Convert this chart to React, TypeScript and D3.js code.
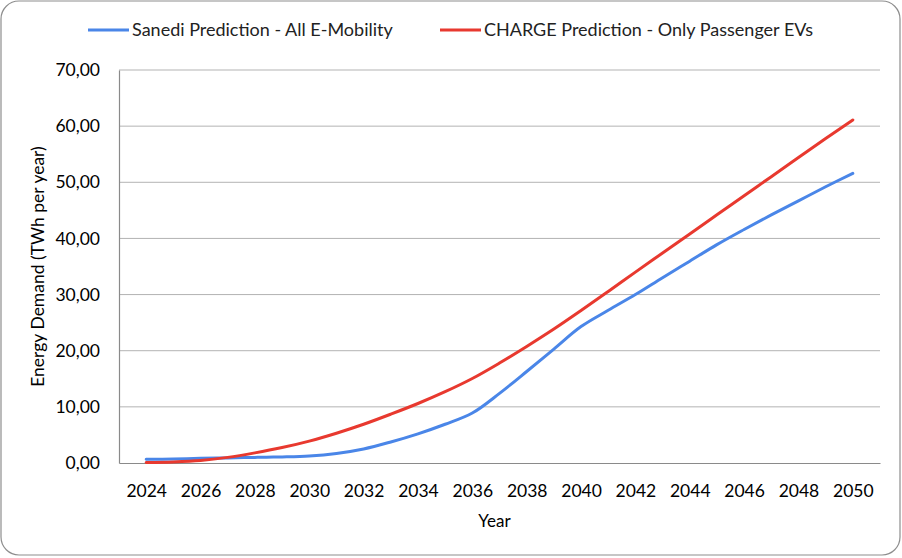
import * as React from "react";
import * as d3 from "d3";

// years on the x axis
const years: number[] = d3.range(2024, 2051);
const tickYears: number[] = d3.range(2024, 2051, 2);
const yTicks: number[] = [0, 10, 20, 30, 40, 50, 60, 70];

// TWh per year
const sanedi: number[] = [0.65, 0.72, 0.83, 0.9, 1.0, 1.08, 1.25, 1.7, 2.5, 3.75, 5.2, 6.9, 8.9, 12.4, 16.3, 20.3, 24.3, 27.2, 30.0, 33.0, 35.95, 38.9, 41.6, 44.2, 46.7, 49.2, 51.6];
const charge: number[] = [0.1, 0.2, 0.45, 1.0, 1.8, 2.75, 3.9, 5.3, 6.9, 8.7, 10.6, 12.7, 15.05, 17.8, 20.75, 23.85, 27.15, 30.55, 34.0, 37.4, 40.8, 44.2, 47.6, 51.0, 54.4, 57.8, 61.1];

const seriesNames = ["Sanedi Prediction - All E-Mobility", "CHARGE Prediction - Only Passenger EVs"];
const seriesColors = ["#4a86e8", "#e8392f"];

const W = 902, H = 558;
const margin = { top: 70, right: 22, bottom: 95, left: 119 };
const font = "Lato, 'Open Sans', sans-serif";

export default function App() {
  const ref = React.useRef<SVGSVGElement>(null);

  React.useEffect(() => {
    document.body.style.margin = "0";
    const svg = d3.select(ref.current);
    svg.selectAll("*").remove();

    const width = W - margin.left - margin.right;
    const height = H - margin.top - margin.bottom;

    const x = d3.scaleLinear().domain([2023, 2051]).range([0, width]);
    const y = d3.scaleLinear().domain([0, 70]).range([height, 0]);

    // outer frame
    svg.append("rect")
      .attr("x", 1).attr("y", 1).attr("width", W - 3).attr("height", H - 4)
      .attr("rx", 18).attr("ry", 18)
      .attr("fill", "#fff").attr("stroke", "#8e8e8e").attr("stroke-width", 1.2);

    const g = svg.append("g").attr("transform", "translate(" + margin.left + "," + margin.top + ")");

    // gridlines
    g.append("g").selectAll("line").data(yTicks.filter(d => d > 0)).enter().append("line")
      .attr("x1", 0).attr("x2", width)
      .attr("y1", d => y(d)).attr("y2", d => y(d))
      .attr("stroke", "#b3b3b3").attr("stroke-width", 1);

    // y axis
    const yAxis = g.append("g").call(d3.axisLeft(y).tickValues(yTicks).tickSize(0).tickPadding(19)
      .tickFormat(d => d3.format(".2f")(d as number).replace(".", ",")));
    yAxis.select(".domain").attr("stroke", "#8a8a8a").attr("stroke-width", 1.2);
    yAxis.selectAll("text").attr("font-family", font).attr("font-size", 17.5).attr("fill", "#000");

    // x axis
    const xAxis = g.append("g").attr("transform", "translate(0," + height + ")")
      .call(d3.axisBottom(x).tickValues(tickYears).tickSize(0).tickPadding(22).tickFormat(d3.format("d")));
    xAxis.select(".domain").attr("stroke", "#8a8a8a").attr("stroke-width", 1.2);
    xAxis.selectAll("text").attr("font-family", font).attr("font-size", 17.5).attr("fill", "#000");

    // axis titles
    g.append("text")
      .attr("x", width / 2 - 5).attr("y", height + 64)
      .attr("text-anchor", "middle").attr("font-family", font).attr("font-size", 17)
      .text("Year");
    g.append("text")
      .attr("transform", "translate(" + (-75) + "," + (height / 2) + ") rotate(-90)")
      .attr("text-anchor", "middle").attr("font-family", font).attr("font-size", 17.5)
      .text("Energy Demand (TWh per year)");

    // lines
    const line = d3.line<number>()
      .x((_, i) => x(years[i]))
      .y(d => y(d))
      .curve(d3.curveCatmullRom.alpha(0.5));

    [sanedi, charge].forEach((s, i) => {
      g.append("path")
        .datum(s)
        .attr("fill", "none")
        .attr("stroke", seriesColors[i])
        .attr("stroke-width", 3)
        .attr("stroke-linecap", "round")
        .attr("d", line);
    });

    // legend
    const legendX = [88, 440];
    const leg = svg.append("g");
    seriesNames.forEach((n, i) => {
      leg.append("line")
        .attr("x1", legendX[i]).attr("x2", legendX[i] + 41)
        .attr("y1", 30).attr("y2", 30)
        .attr("stroke", seriesColors[i]).attr("stroke-width", 3);
      leg.append("text")
        .attr("x", legendX[i] + 44).attr("y", 36)
        .attr("font-family", font).attr("font-size", 18).attr("fill", "#222")
        .text(n);
    });
  }, []);

  return <svg ref={ref} width={W} height={H} style={{ display: "block" }}></svg>;
}
